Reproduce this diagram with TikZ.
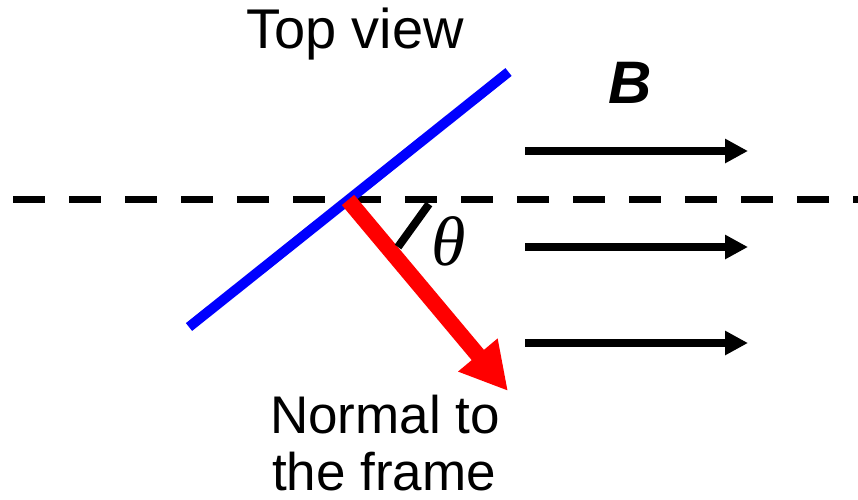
\documentclass[tikz,border=0pt]{standalone}
\usepackage{fontspec}
\setmainfont{Liberation Sans}
\newfontfamily\thetafont{Liberation Serif}
\usetikzlibrary{arrows.meta}
\tikzset{
  lbl/.style={anchor=base, inner sep=0pt, font=\fontsize{53}{60}\selectfont},
  bfield/.style={line width=8pt, -{Triangle[length=23pt,width=23pt]}},
  frame/.style={blue, line width=10pt},
  normal/.style={red, line width=16pt, -{Triangle[length=47pt,width=48pt]}},
  axis/.style={line width=7.5pt, dash pattern=on 32pt off 24pt},
  anglemark/.style={line width=8pt}
}
\begin{document}
\begin{tikzpicture}[x=1pt,y=-1pt]
\useasboundingbox (0,0) rectangle (858,499);
% coordinates
\coordinate (axL) at (13,199.5);
\coordinate (axR) at (858,199.5);
\coordinate (frA) at (189,327);
\coordinate (frB) at (508.5,72);
\coordinate (nS) at (348,200);
\coordinate (nE) at (508,391);
\coordinate (mA) at (429,204);
\coordinate (mB) at (398,247);
\foreach \y [count=\i] in {151,247,343} {
  \coordinate (b\i s) at (525,\y);
  \coordinate (b\i e) at (748,\y);
}
% axis
\draw[axis] (axL) -- (axR);
% frame
\draw[frame] (frA) -- (frB);
% normal
\draw[normal] (nS) -- (nE);
% angle mark
\draw[anglemark] (mA) -- (mB);
% field arrows
\foreach \i in {1,2,3} \draw[bfield] (b\i s) -- (b\i e);
% labels
\node[lbl, font=\fontsize{56}{60}\selectfont] (top) at (355,48) {Top view};
\node[lbl, font=\fontsize{60}{60}\selectfont] (B) at (630,103) {\bfseries\itshape B};
\node[anchor=center, inner sep=0pt, font=\fontsize{70}{80}\selectfont\thetafont\itshape] (th) at (449,241) {θ};
\node[lbl] (n1) at (385,433) {Normal to};
\node[lbl] (n2) at (384,490) {the frame};
\end{tikzpicture}
\end{document}
